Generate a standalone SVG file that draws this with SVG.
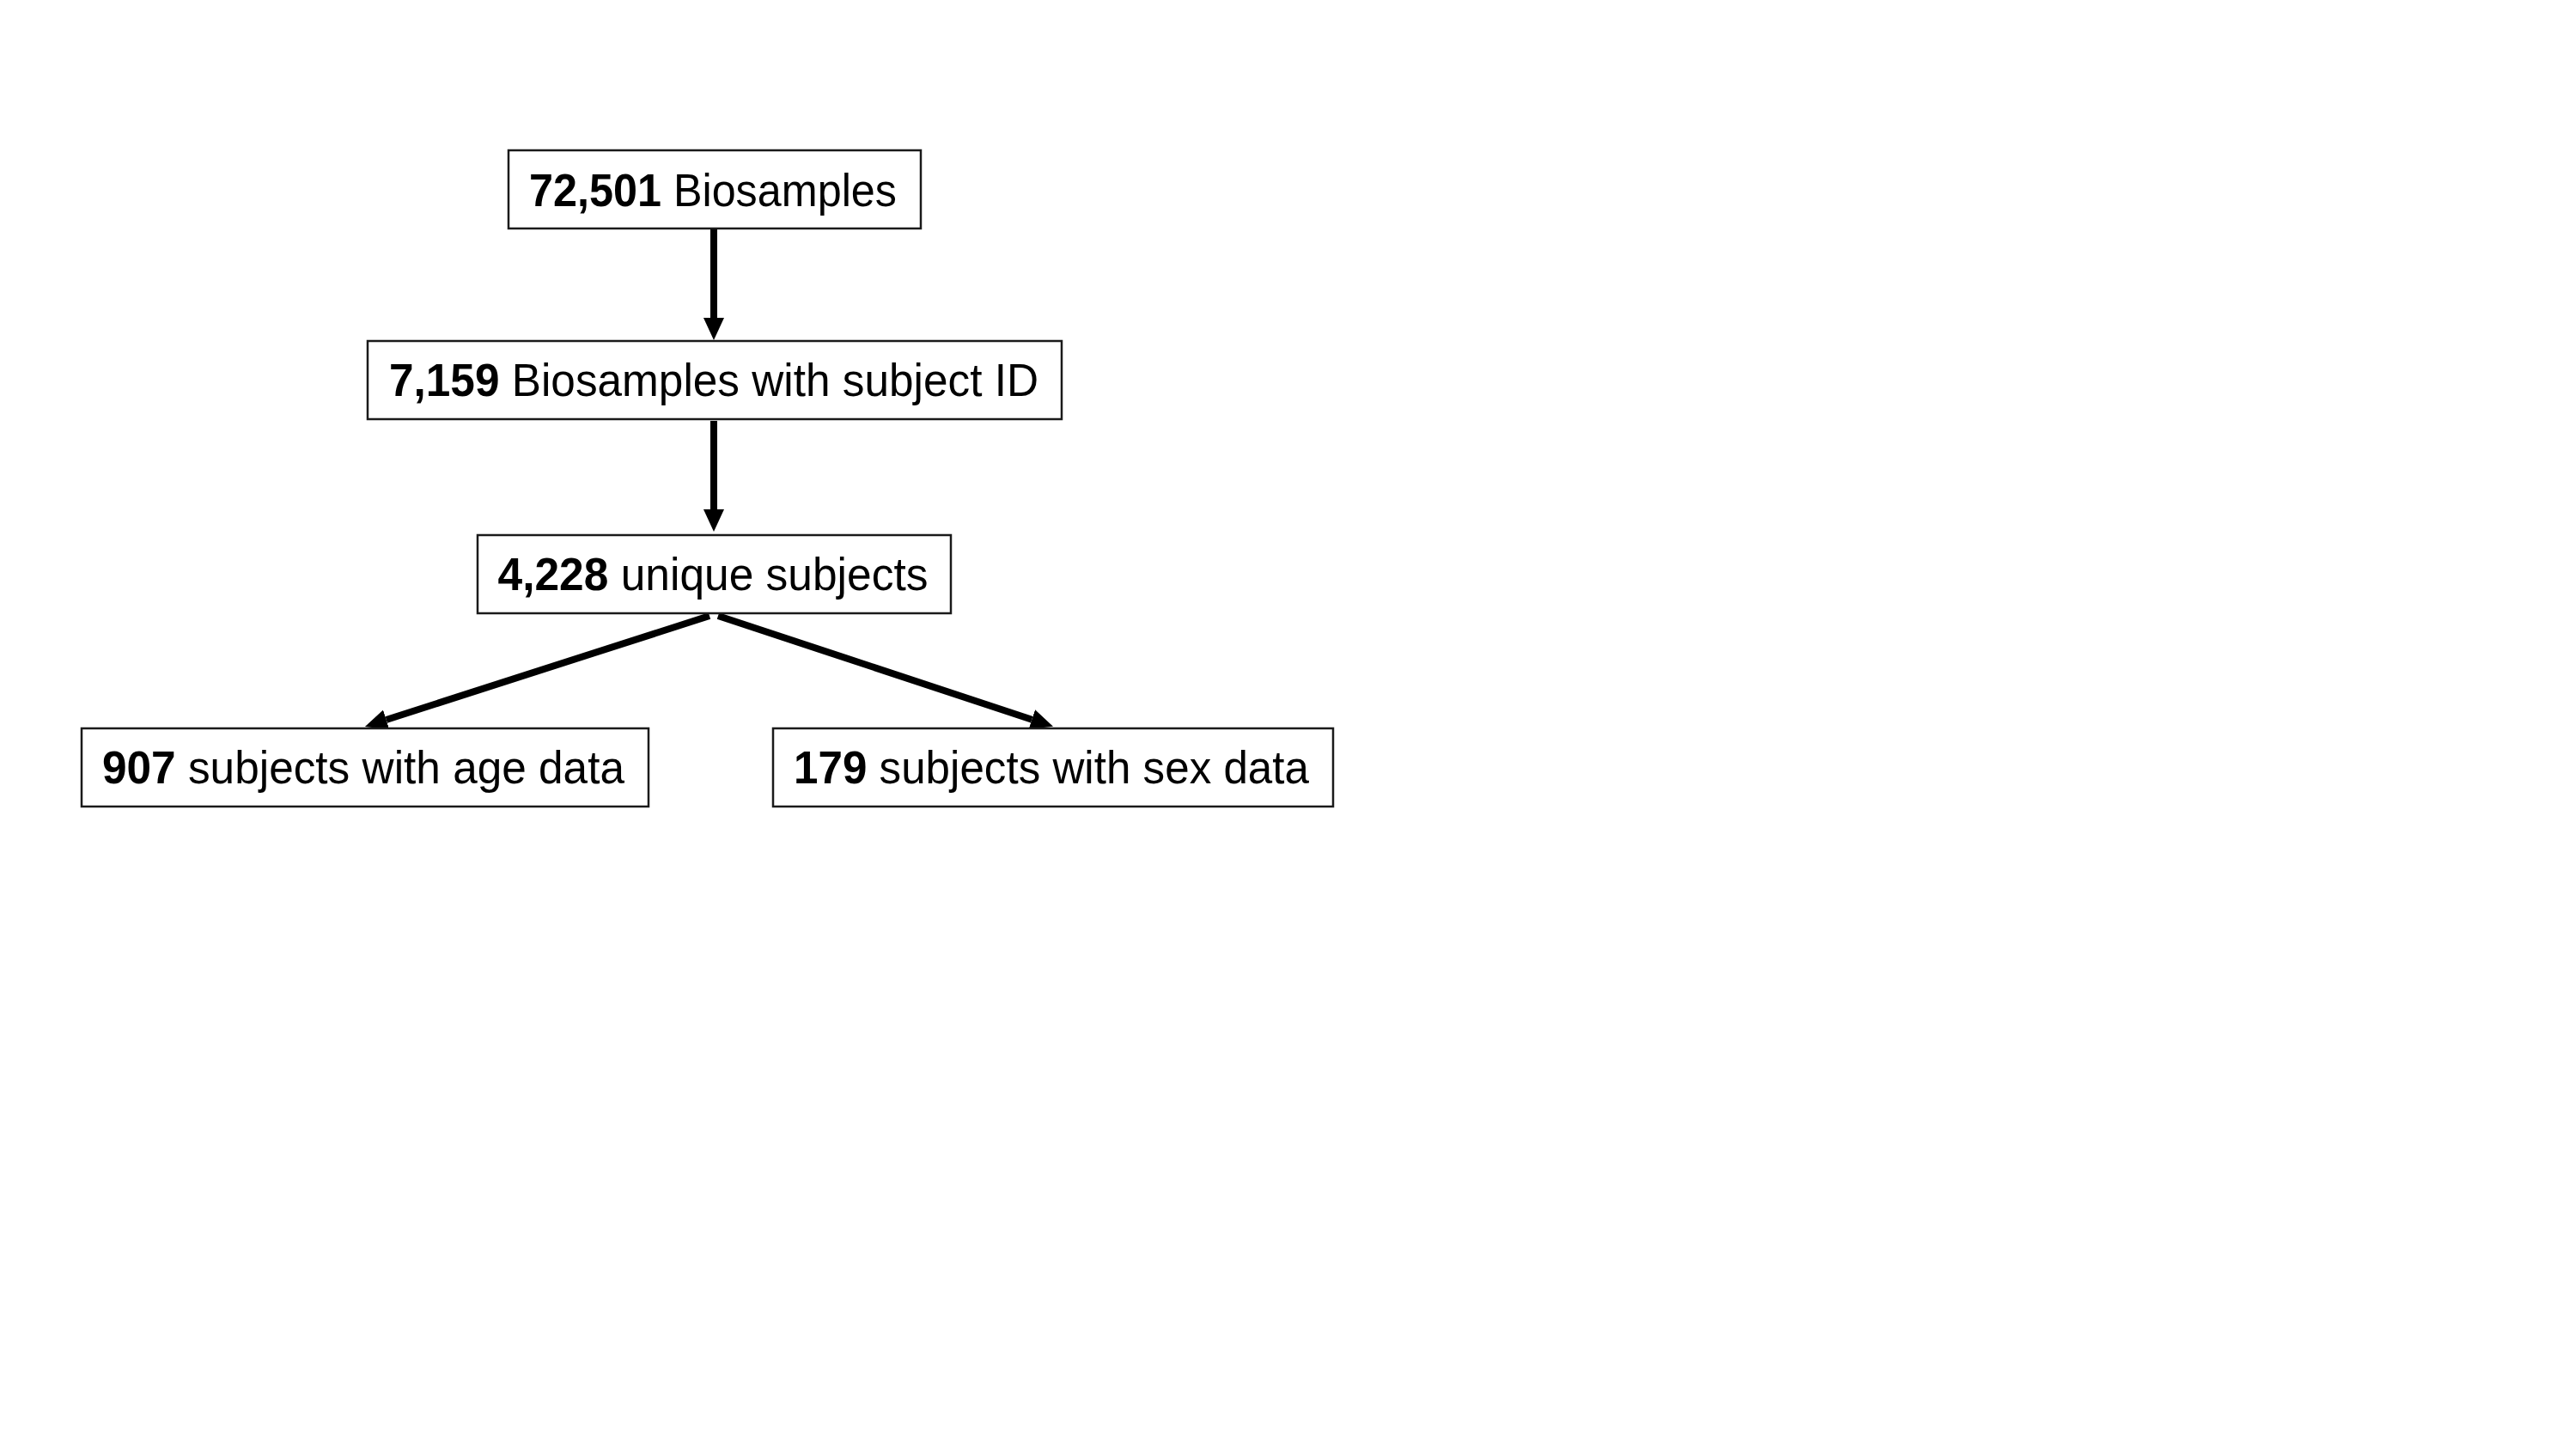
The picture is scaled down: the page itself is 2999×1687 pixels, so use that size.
<svg xmlns="http://www.w3.org/2000/svg" width="2999" height="1687" viewBox="0 0 2999 1687">
<style>
.box{fill:#fff;stroke:#1a1a1a;stroke-width:2.5}
.lbl{font-family:"Liberation Sans",Arial,sans-serif;font-size:53px;fill:#000;text-anchor:middle}
.b{font-weight:bold}
.conn{stroke:#000;stroke-width:8;fill:none;marker-end:url(#ah)}
</style>
<defs>
<marker id="ah" markerUnits="userSpaceOnUse" markerWidth="26" markerHeight="24" refX="0" refY="12" orient="auto">
<path d="M0,0 L26,12 L0,24 z" fill="#000"/>
</marker>
</defs>
<rect width="2999" height="1687" fill="#fff"/>
<g id="connectors">
<path class="conn" d="M831,267 L831,370"/>
<path class="conn" d="M831,490 L831,593"/>
<path class="conn" d="M826,717 L449.7,838"/>
<path class="conn" d="M836,717 L1201.3,837.7"/>
</g>
<g id="n1">
<rect class="box" x="592" y="175" width="480" height="91"/>
<text class="lbl" x="830" y="240" textLength="428" lengthAdjust="spacingAndGlyphs"><tspan class="b">72,501</tspan> Biosamples</text>
</g>
<g id="n2">
<rect class="box" x="428" y="397" width="808" height="91"/>
<text class="lbl" x="831" y="461" textLength="756" lengthAdjust="spacingAndGlyphs"><tspan class="b">7,159</tspan> Biosamples with subject ID</text>
</g>
<g id="n3">
<rect class="box" x="556" y="623" width="551" height="91"/>
<text class="lbl" x="830" y="687" textLength="501" lengthAdjust="spacingAndGlyphs"><tspan class="b">4,228</tspan> unique subjects</text>
</g>
<g id="n4">
<rect class="box" x="95" y="848" width="660" height="91"/>
<text class="lbl" x="423" y="912" textLength="608" lengthAdjust="spacingAndGlyphs"><tspan class="b">907</tspan> subjects with age data</text>
</g>
<g id="n5">
<rect class="box" x="900" y="848" width="652" height="91"/>
<text class="lbl" x="1224" y="912" textLength="600" lengthAdjust="spacingAndGlyphs"><tspan class="b">179</tspan> subjects with sex data</text>
</g>
</svg>
